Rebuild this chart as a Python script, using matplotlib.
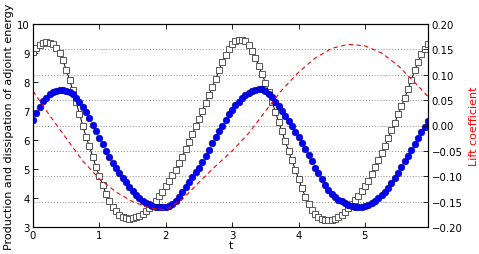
import matplotlib
matplotlib.use("Agg")
import matplotlib.pyplot as plt
import numpy as np

# time grid for marker series (dt = 0.05)
t = [round(0.05 * i, 2) for i in range(120)]

production = [
    9.05, 9.17, 9.27, 9.34, 9.37, 9.36, 9.30, 9.18, 9.00, 8.75,
    8.42, 8.08, 7.72, 7.30, 6.90, 6.50, 6.10, 5.78, 5.42, 5.07,
    4.75, 4.45, 4.15, 3.90, 3.70, 3.55, 3.43, 3.35, 3.31, 3.29,
    3.30, 3.33, 3.38, 3.45, 3.54, 3.65, 3.77, 3.91, 4.06, 4.22,
    4.40, 4.58, 4.78, 4.98, 5.20, 5.43, 5.68, 5.94, 6.20, 6.47,
    6.74, 7.01, 7.28, 7.55, 7.82, 8.10, 8.40, 8.68, 8.93, 9.14,
    9.30, 9.40, 9.45, 9.45, 9.40, 9.28, 9.08, 8.82, 8.55, 8.28,
    7.98, 7.65, 7.32, 6.98, 6.62, 6.30, 5.95, 5.62, 5.30, 4.98,
    4.66, 4.35, 4.05, 3.80, 3.60, 3.45, 3.35, 3.28, 3.25, 3.24,
    3.25, 3.28, 3.34, 3.42, 3.52, 3.64, 3.78, 3.93, 4.08, 4.24,
    4.40, 4.60, 4.82, 5.06, 5.30, 5.54, 5.80, 6.06, 6.33, 6.60,
    6.88, 7.16, 7.45, 7.76, 8.08, 8.40, 8.70, 8.95, 9.15, 9.30,
]

dissipation = [
    6.70, 6.92, 7.14, 7.33, 7.46, 7.57, 7.65, 7.70, 7.72, 7.72,
    7.70, 7.65, 7.57, 7.45, 7.30, 7.13, 6.95, 6.75, 6.53, 6.30,
    6.07, 5.85, 5.62, 5.42, 5.22, 5.03, 4.85, 4.69, 4.54, 4.39,
    4.24, 4.11, 4.00, 3.91, 3.84, 3.78, 3.73, 3.70, 3.69, 3.69,
    3.70, 3.73, 3.78, 3.88, 4.02, 4.20, 4.38, 4.55, 4.72, 4.89,
    5.05, 5.24, 5.44, 5.65, 5.88, 6.10, 6.30, 6.50, 6.70, 6.88,
    7.05, 7.19, 7.32, 7.44, 7.54, 7.62, 7.69, 7.73, 7.75, 7.75,
    7.70, 7.60, 7.47, 7.32, 7.16, 6.99, 6.82, 6.65, 6.47, 6.29,
    6.10, 5.90, 5.69, 5.48, 5.26, 5.05, 4.85, 4.65, 4.46, 4.29,
    4.14, 4.03, 3.94, 3.88, 3.82, 3.77, 3.73, 3.70, 3.69, 3.70,
    3.72, 3.76, 3.83, 3.91, 4.00, 4.10, 4.22, 4.36, 4.52, 4.69,
    4.87, 5.06, 5.26, 5.46, 5.66, 5.86, 6.06, 6.26, 6.46, 6.66,
]

t_lift = [0.0, 0.25, 0.5, 0.75, 1.0, 1.25, 1.5, 1.75, 2.0, 2.25, 2.5, 2.75,
          3.0, 3.25, 3.5, 3.75, 4.0, 4.25, 4.5, 4.75, 5.0, 5.25, 5.5, 5.75, 5.95]
lift = [0.068, 0.020, -0.025, -0.070, -0.105, -0.131, -0.150, -0.162, -0.166,
        -0.145, -0.112, -0.080, -0.050, -0.015, 0.028, 0.070, 0.105, 0.133,
        0.152, 0.160, 0.157, 0.143, 0.118, 0.085, 0.057]

left_ticks = [3, 4, 5, 6, 7, 8, 9, 10]
right_ticks = [-0.20, -0.15, -0.10, -0.05, 0.00, 0.05, 0.10, 0.15, 0.20]
x_ticks = [0, 1, 2, 3, 4, 5]

plt.rcParams['font.family'] = ['DejaVu Sans']
fs = 7.3
lfs = 8

fig = plt.figure(figsize=(4.79, 2.55), dpi=100)
ax1 = fig.add_axes([33 / 479, 1 - 228 / 255, (428 - 33) / 479, (228 - 25) / 255])
ax2 = ax1.twinx()

ax1.set_xlim(0, 5.95)
ax1.set_ylim(3, 10)
ax2.set_ylim(-0.2, 0.2)

# grid at right-axis ticks, drawn behind the markers
for v in right_ticks[1:-1]:
    yv = 3 + (v + 0.2) / 0.4 * 7
    ax1.axhline(yv, color='#888888', linestyle=(0, (1, 2)), linewidth=0.7, zorder=0)

ax1.plot(t, production, '-', color='black', linewidth=0.7,
         marker='s', markersize=4.2, markerfacecolor='white',
         markeredgecolor='#555555', markeredgewidth=0.7, zorder=2)
ax1.plot(t, dissipation, linestyle='none', marker='o', markersize=4.8,
         markerfacecolor='#0000ff', markeredgecolor='#000088',
         markeredgewidth=0.4, zorder=3)

ax2.plot(t_lift, lift, color='red', linewidth=0.8, dashes=(4, 3))

ax1.set_xticks(x_ticks)
ax1.set_yticks(left_ticks)
ax2.set_yticks(right_ticks)
ax2.set_yticklabels([f"{v:.2f}".replace('-', '\u2212') for v in right_ticks])

ax1.tick_params(axis='both', direction='in', labelsize=fs, length=3.5, width=0.6, pad=2.5,
                top=True, right=False)
ax2.tick_params(axis='y', direction='in', labelsize=fs, length=3.5, width=0.6, pad=2.5)
ax2.tick_params(axis='x', top=True, direction='in')

ax1.set_xlabel('t', fontsize=lfs, labelpad=0)
ax1.set_ylabel('Production and dissipation of adjoint energy', fontsize=lfs, labelpad=2)
ax2.set_ylabel('Lift coefficient', fontsize=lfs, color='red', labelpad=5)

for ax in (ax1, ax2):
    for s in ax.spines.values():
        s.set_linewidth(0.8)

fig.savefig('out.png', dpi=100)
